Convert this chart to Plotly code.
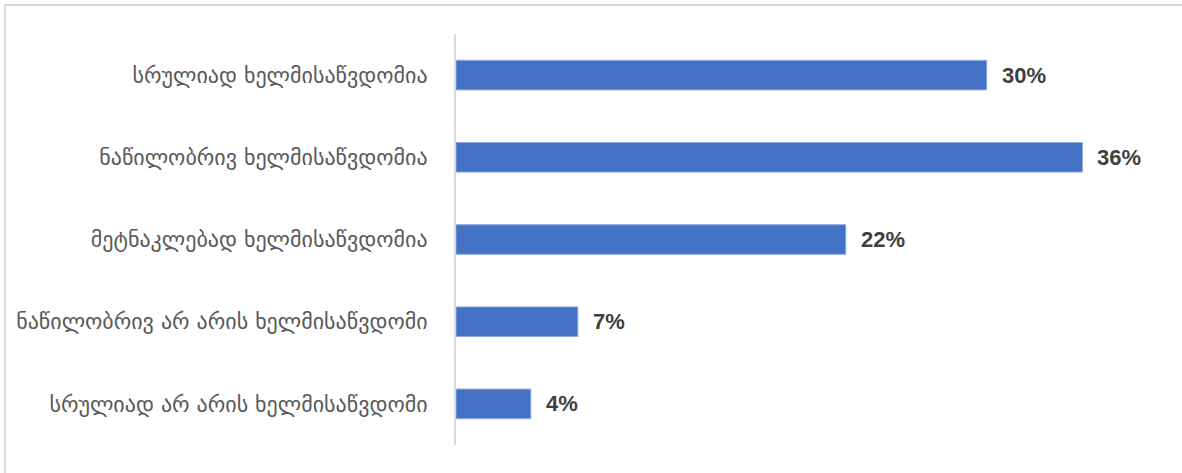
import plotly.graph_objects as go

categories = [
    "სრულიად ხელმისაწვდომია",
    "ნაწილობრივ ხელმისაწვდომია",
    "მეტნაკლებად ხელმისაწვდომია",
    "ნაწილობრივ არ არის ხელმისაწვდომი",
    "სრულიად არ არის ხელმისაწვდომი",
]
values = [30.5, 36.0, 22.4, 7.0, 4.3]
labels = ["30%", "36%", "22%", "7%", "4%"]

W, H = 1182, 473
L, R, T, B = 456, 30, 34, 28
pw, ph = W - L - R, H - T - B

fig = go.Figure()
fig.add_trace(go.Bar(
    y=categories, x=values, orientation="h",
    marker=dict(color="#4472C4", line=dict(color="#8FAADC", width=1)),
    width=0.36,
))
for c, v, t in zip(categories, values, labels):
    fig.add_annotation(x=v, y=c, text="<b>" + t + "</b>", showarrow=False,
                       xanchor="left", xshift=13,
                       font=dict(family="Liberation Sans Narrow, Arial Narrow, sans-serif",
                                 size=22, color="#404040"))

def px_x(x):
    return (x - L) / pw

def px_y(y):
    return (H - B - y) / ph

fig.add_shape(type="line", xref="paper", yref="paper",
              x0=px_x(4), x1=px_x(W + 5), y0=px_y(5), y1=px_y(5),
              line=dict(color="#D9D9D9", width=2))
fig.add_shape(type="line", xref="paper", yref="paper",
              x0=px_x(5), x1=px_x(5), y0=px_y(4), y1=px_y(H + 5),
              line=dict(color="#D9D9D9", width=2))

fig.update_layout(
    width=W, height=H,
    margin=dict(l=L, r=R, t=T, b=B),
    paper_bgcolor="white", plot_bgcolor="white",
    showlegend=False,
)
fig.update_yaxes(autorange="reversed", showline=True, linecolor="#D9D9D9", linewidth=2,
                 ticks="", showgrid=False, ticklabelstandoff=22,
                 tickfont=dict(family="DejaVu Sans", size=22, color="#595959"))
fig.update_xaxes(range=[0, 40], showgrid=False, zeroline=False, showticklabels=False,
                 showline=False)

fig.write_html("out.html", config={"displayModeBar": False},
               post_script="document.body.style.margin='0';document.body.style.overflow='hidden';")
